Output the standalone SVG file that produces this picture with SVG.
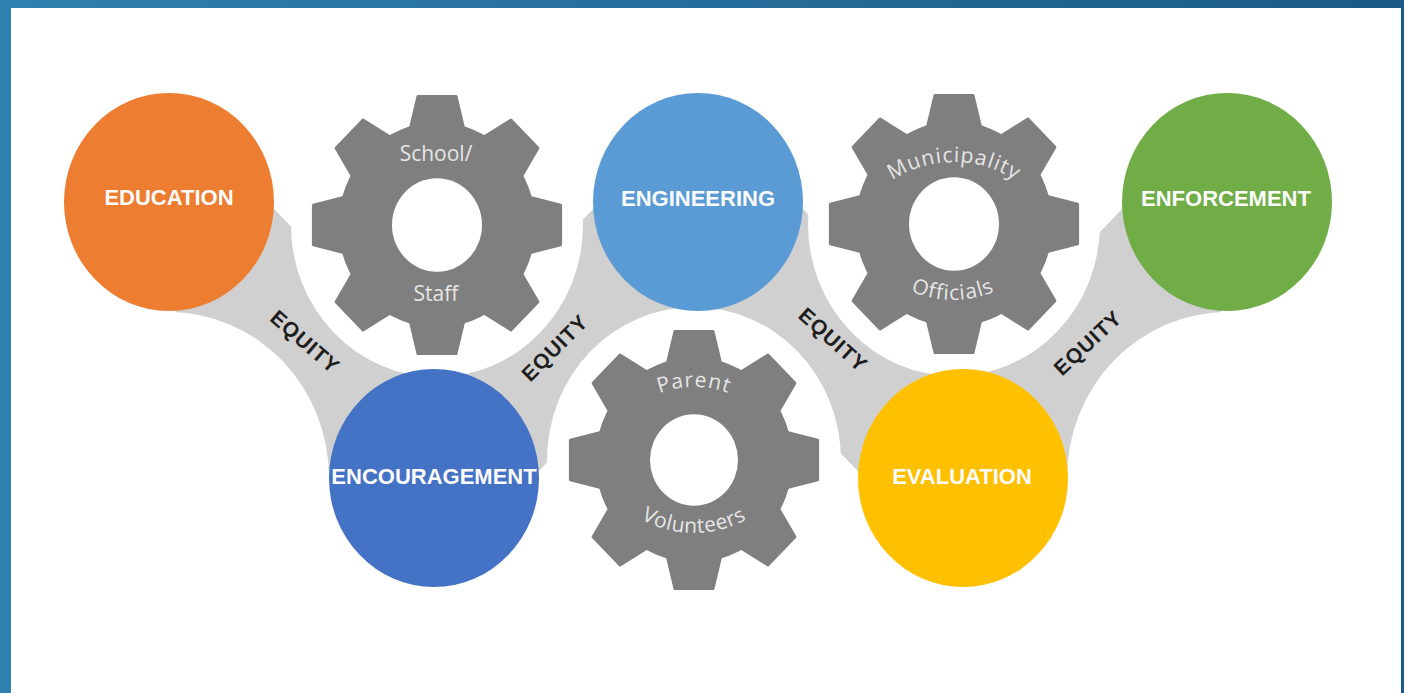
<svg xmlns="http://www.w3.org/2000/svg" width="1404" height="693" viewBox="0 0 1404 693">
  <style>
    .lbl { font-family: "Liberation Sans", Arial, sans-serif; font-weight: bold; font-size: 22px; fill: #fbfbfb; text-anchor: middle; }
    .eq { font-family: "Liberation Sans", Arial, sans-serif; font-weight: bold; font-size: 21px; letter-spacing: 1px; fill: #1e1e1e; text-anchor: middle; }
    .gt { font-family: "Open Sans", "DejaVu Sans", sans-serif; font-size: 21px; fill: #e6e6e6; text-anchor: middle; }
    .hole { fill: #ffffff; }
    .clear { fill: #ffffff; }
  </style>
  <defs>
    <linearGradient id="frameGrad" x1="0" y1="0" x2="1" y2="0">
      <stop offset="0" stop-color="#2f80ae"/>
      <stop offset="1" stop-color="#1b5a86"/>
    </linearGradient>
    <clipPath id="canvasClip">
      <rect x="11" y="8" width="1390" height="685"/>
    </clipPath>
    <!-- single gear tooth, pointing up -->
    <polygon id="tooth" points="-26.5,-93.3 -19,-123.6 19,-123.6 26.5,-93.3 20,-70 -20,-70"/>
    <!-- eight-tooth gear body -->
    <g id="gearShape" fill="#7f7f7f" stroke="#7f7f7f" stroke-width="3" stroke-linejoin="round">
      <circle r="97"/>
      <use href="#tooth"/>
      <use href="#tooth" transform="rotate(45)"/>
      <use href="#tooth" transform="rotate(90)"/>
      <use href="#tooth" transform="rotate(135)"/>
      <use href="#tooth" transform="rotate(180)"/>
      <use href="#tooth" transform="rotate(225)"/>
      <use href="#tooth" transform="rotate(270)"/>
      <use href="#tooth" transform="rotate(315)"/>
    </g>
    <!-- baselines for curved gear captions -->
    <path id="arcMunicipality" d="M 842,274 A 112 112 0 0 1 1066,274"/>
    <path id="arcOfficials" d="M 847,194 A 106 106 0 0 0 1059,194"/>
    <path id="arcParent" d="M 595,486 A 99 99 0 0 1 793,486"/>
    <path id="arcVolunteers" d="M 586,425 A 108 108 0 0 0 802,425"/>
  </defs>

  <!-- frame -->
  <rect x="0" y="0" width="1404" height="693" fill="url(#frameGrad)"/>
  <rect x="0" y="0" width="12" height="693" fill="#2e80ae"/>
  <rect x="11" y="8" width="1390" height="685" fill="#ffffff"/>

  <!-- connectors: grey band through the five circles -->
  <g id="connectors" clip-path="url(#canvasClip)">
    <polyline points="169,202 434,478 698,202 963,478 1227,202" fill="none" stroke="#d0d0d0" stroke-width="142" stroke-linejoin="round" stroke-linecap="round"/>
    <!-- clearances that shape the band -->
    <ellipse class="clear" cx="437" cy="225" rx="146" ry="152"/>
    <ellipse class="clear" cx="954" cy="224" rx="146" ry="152"/>
    <ellipse class="clear" cx="694" cy="460" rx="147" ry="153"/>
    <ellipse class="clear" cx="169" cy="478" rx="160" ry="166"/>
    <ellipse class="clear" cx="1227" cy="478" rx="160" ry="166"/>
    <text class="eq" transform="translate(305,342) rotate(41)" y="7">EQUITY</text>
    <text class="eq" transform="translate(555,348) rotate(-45)" y="7">EQUITY</text>
    <text class="eq" transform="translate(833,340) rotate(42)" y="7">EQUITY</text>
    <text class="eq" transform="translate(1088,343) rotate(-43)" y="7">EQUITY</text>
  </g>

  <!-- gears -->
  <g id="gear-school-staff">
    <g transform="translate(437,225) scale(1,1.04)">
      <use href="#gearShape"/>
      <circle class="hole" r="45"/>
    </g>
    <text class="gt" x="436" y="161">School/</text>
    <text class="gt" x="436" y="301">Staff</text>
  </g>

  <g id="gear-municipality-officials">
    <g transform="translate(954,224) scale(1,1.04)">
      <use href="#gearShape"/>
      <circle class="hole" r="45"/>
    </g>
    <text class="gt" letter-spacing="1"><textPath href="#arcMunicipality" startOffset="50%">Municipality</textPath></text>
    <text class="gt" letter-spacing="1"><textPath href="#arcOfficials" startOffset="50%">Officials</textPath></text>
  </g>

  <g id="gear-parent-volunteers">
    <g transform="translate(694,460) scale(1,1.04)">
      <use href="#gearShape"/>
      <circle class="hole" r="44"/>
    </g>
    <text class="gt" letter-spacing="1"><textPath href="#arcParent" startOffset="50%">Parent</textPath></text>
    <text class="gt" letter-spacing="0.5"><textPath href="#arcVolunteers" startOffset="50%">Volunteers</textPath></text>
  </g>

  <!-- circles -->
  <g id="education">
    <ellipse cx="169" cy="202" rx="105" ry="109" fill="#ed7d31"/>
    <text class="lbl" x="169" y="205">EDUCATION</text>
  </g>
  <g id="encouragement">
    <ellipse cx="434" cy="478" rx="105" ry="109" fill="#4472c4"/>
    <text class="lbl" x="434" y="484">ENCOURAGEMENT</text>
  </g>
  <g id="engineering">
    <ellipse cx="698" cy="202" rx="105" ry="109" fill="#5b9bd5"/>
    <text class="lbl" x="698" y="206">ENGINEERING</text>
  </g>
  <g id="evaluation">
    <ellipse cx="963" cy="478" rx="105" ry="109" fill="#ffc000"/>
    <text class="lbl" x="962" y="484">EVALUATION</text>
  </g>
  <g id="enforcement">
    <ellipse cx="1227" cy="202" rx="105" ry="109" fill="#70ad47"/>
    <text class="lbl" x="1226" y="206">ENFORCEMENT</text>
  </g>
</svg>
